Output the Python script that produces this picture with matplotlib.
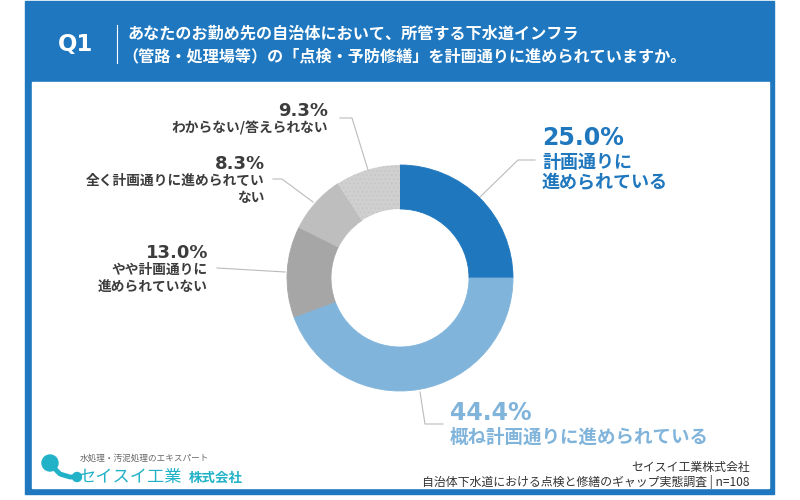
import matplotlib
matplotlib.use('Agg')
import matplotlib.pyplot as plt
from matplotlib.patches import Rectangle, Circle
from matplotlib.lines import Line2D

plt.rcParams['font.family'] = ['Noto Sans CJK JP', 'DejaVu Sans']
plt.rcParams['hatch.linewidth'] = 0.8

# ---- data ----
categories = ['計画通りに\n進められている',
              '概ね計画通りに進められている',
              'やや計画通りに\n進められていない',
              '全く計画通りに進められてい\nない',
              'わからない/答えられない']
values = [25.0, 44.4, 13.0, 8.3, 9.3]
pct_labels = ['25.0%', '44.4%', '13.0%', '8.3%', '9.3%']
title_q = 'Q1'
title_lines = ['あなたのお勤め先の自治体において、所管する下水道インフラ',
               '（管路・処理場等）の「点検・予防修繕」を計画通りに進められていますか。']
source_lines = ['セイスイ工業株式会社',
                '自治体下水道における点検と修繕のギャップ実態調査 | n=108']

# ---- styles ----
colors = ['#1F77BE', '#80B4DB', '#A6A6A6', '#BEBEBE', '#D0D0D0']
label_colors = ['#1F77BE', '#80B4DB', '#3C3C3C', '#3C3C3C', '#3C3C3C']
HEADER = '#1F78BF'

fig = plt.figure(figsize=(8, 5), dpi=100)
bg = fig.add_axes([0, 0, 1, 1])
bg.set_xlim(0, 800)
bg.set_ylim(500, 0)
bg.axis('off')

# frame
bg.add_patch(Rectangle((25, 1), 749, 493, color=HEADER, zorder=0))
bg.add_patch(Rectangle((32, 82), 737, 406, color='white', zorder=1))

# header
bg.text(76, 45, title_q, color='white', fontsize=16.5, fontweight='bold',
        ha='center', va='center', family=['DejaVu Sans'], zorder=3)
bg.add_line(Line2D([117, 117], [25, 63], color='white', lw=0.8, zorder=3))
bg.text(128, 34, title_lines[0], color='white', fontsize=11.6, fontweight='bold',
        ha='left', va='center', zorder=3)
bg.text(122, 56, title_lines[1], color='white', fontsize=11.6, fontweight='bold',
        ha='left', va='center', zorder=3)

# donut
cx, cy, R, W = 400, 278, 113, 44
pax = fig.add_axes([(cx - R) / 800, (500 - cy - R) / 500, 2 * R / 800, 2 * R / 500])
wedges, _ = pax.pie(values, colors=colors, startangle=90, counterclock=False,
                    radius=1, wedgeprops=dict(width=W / R, linewidth=0.6))
for w, c in zip(wedges, colors):
    w.set_edgecolor(c)
wedges[4].set_hatch('....')
wedges[4].set_edgecolor('#C7C7C7')
wedges[4].set_linewidth(0)
pax.set_xlim(-1, 1)
pax.set_ylim(-1, 1)
pax.axis('off')

# labels
lab = [
    dict(x=542, py=138, ty=[162, 183], ha='left', ps=17, ts=13),
    dict(x=450, py=413, ty=[437], ha='left', ps=17, ts=13.3),
    dict(x=208, py=253, ty=[270, 288], ha='right', ps=13, ts=9.9),
    dict(x=265, py=164, ty=[181, 198], ha='right', ps=13, ts=9.9),
    dict(x=328, py=111, ty=[128], ha='right', ps=13, ts=9.9),
]
for i, L in enumerate(lab):
    bg.text(L['x'], L['py'], pct_labels[i], color=label_colors[i], fontsize=L['ps'],
            fontweight='bold', ha=L['ha'], va='center', zorder=3,
            family=['DejaVu Sans'])
    for line, y in zip(categories[i].split('\n'), L['ty']):
        bg.text(L['x'], y, line, color=label_colors[i], fontsize=L['ts'],
                fontweight='bold', ha=L['ha'], va='center', zorder=3)

# leader lines
leaders = [
    ([480, 518, 535], [197, 160, 160]),
    ([420, 425, 443], [392, 424, 424]),
    ([217, 285], [268, 272]),
    ([273, 282, 313], [179, 179, 202]),
    ([340, 352, 368], [118, 118, 170]),
]
for xs, ys in leaders:
    bg.add_line(Line2D(xs, ys, color='#BBBBBB', lw=0.8, zorder=2))

# footer source
bg.text(750, 467, source_lines[0], color='#333333', fontsize=8.6, ha='right',
        va='center', zorder=3)
bg.text(750, 482, source_lines[1], color='#333333', fontsize=8.6, ha='right',
        va='center', zorder=3)

# logo
TEAL = '#22B2C8'
bg.add_line(Line2D([52, 60, 70, 77], [466, 474, 477, 477], color=TEAL, lw=3.5,
                   solid_capstyle='round', zorder=3))
bg.add_patch(Circle((50, 463), 8, color=TEAL, zorder=3))
bg.add_patch(Circle((77, 477), 4.5, color=TEAL, zorder=3))
bg.text(80, 458, '水処理・汚泥処理のエキスパート', color='#666666', fontsize=6.2,
        ha='left', va='center', zorder=3)
bg.text(79, 477, 'セイスイ工業', color=TEAL, fontsize=12.4, ha='left',
        va='center', zorder=3)
bg.text(189, 478, '株式会社', color=TEAL, fontsize=9.7, fontweight='bold',
        ha='left', va='center', zorder=3)

fig.savefig('out.png', dpi=100)
